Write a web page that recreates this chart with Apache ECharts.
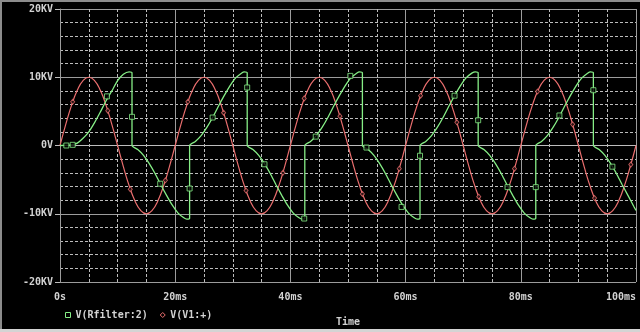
<!DOCTYPE html>
<html>
<head>
<meta charset="utf-8">
<script src="https://cdn.jsdelivr.net/npm/echarts@6/dist/echarts.min.js"></script>
<style>
html,body{margin:0;padding:0;background:#000;}
#c{width:640px;height:332px;}
</style>
</head>
<body>
<div id="c"></div>
<script>
// ---- data (time in ms, voltage in kV) ----
const xTickValues = [0, 20, 40, 60, 80, 100];
const xTickLabels = ['0s', '20ms', '40ms', '60ms', '80ms', '100ms'];
const yTickValues = [-20, -10, 0, 10, 20];
const yTickLabels = ['-20KV', '-10KV', '0V', '10KV', '20KV'];

// V(V1:+) sampled every 1 ms from 0 to 100 ms
const redTime = [];
for (let i = 0; i <= 100; i++) redTime.push(i);
const redValues = [
  0, 3.09, 5.88, 8.09, 9.51, 10, 9.51, 8.09, 5.88, 3.09,
  0, -3.09, -5.88, -8.09, -9.51, -10, -9.51, -8.09, -5.88, -3.09,
  0, 3.09, 5.88, 8.09, 9.51, 10, 9.51, 8.09, 5.88, 3.09,
  0, -3.09, -5.88, -8.09, -9.51, -10, -9.51, -8.09, -5.88, -3.09,
  0, 3.09, 5.88, 8.09, 9.51, 10, 9.51, 8.09, 5.88, 3.09,
  0, -3.09, -5.88, -8.09, -9.51, -10, -9.51, -8.09, -5.88, -3.09,
  0, 3.09, 5.88, 8.09, 9.51, 10, 9.51, 8.09, 5.88, 3.09,
  0, -3.09, -5.88, -8.09, -9.51, -10, -9.51, -8.09, -5.88, -3.09,
  0, 3.09, 5.88, 8.09, 9.51, 10, 9.51, 8.09, 5.88, 3.09,
  0, -3.09, -5.88, -8.09, -9.51, -10, -9.51, -8.09, -5.88, -3.09,
  0
];

// V(Rfilter:2) as [time, value] points (vertical jumps = repeated time)
const greenPoints = [
  [0,0],[1,0.02],[2,0.1],[3,0.35],[4,1.05],[5,2.0],[6,3.35],[7,4.9],[8,6.55],[9,8.0],[10,9.5],[11,10.45],[12,10.8],[12.5,10.65],[12.5,0],
  [13.5,-0.6],[14.5,-1.45],[15.5,-2.65],[16.5,-4.1],[17.5,-5.75],[18.5,-7.3],[19.5,-8.75],[20.5,-9.9],[21.5,-10.6],[22,-10.8],[22.5,-10.65],[22.5,0],
  [23.5,0.6],[24.5,1.45],[25.5,2.65],[26.5,4.1],[27.5,5.75],[28.5,7.3],[29.5,8.75],[30.5,9.9],[31.5,10.6],[32,10.8],[32.5,10.65],[32.5,0],
  [33.5,-0.6],[34.5,-1.45],[35.5,-2.65],[36.5,-4.1],[37.5,-5.75],[38.5,-7.3],[39.5,-8.75],[40.5,-9.9],[41.5,-10.6],[42,-10.8],[42.5,-10.65],[42.5,0],
  [43.5,0.6],[44.5,1.45],[45.5,2.65],[46.5,4.1],[47.5,5.75],[48.5,7.3],[49.5,8.75],[50.5,9.9],[51.5,10.6],[52,10.8],[52.5,10.65],[52.5,0],
  [53.5,-0.6],[54.5,-1.45],[55.5,-2.65],[56.5,-4.1],[57.5,-5.75],[58.5,-7.3],[59.5,-8.75],[60.5,-9.9],[61.5,-10.6],[62,-10.8],[62.5,-10.65],[62.5,0],
  [63.5,0.6],[64.5,1.45],[65.5,2.65],[66.5,4.1],[67.5,5.75],[68.5,7.3],[69.5,8.75],[70.5,9.9],[71.5,10.6],[72.1,10.8],[72.6,10.65],[72.6,0],
  [73.6,-0.6],[74.6,-1.45],[75.6,-2.65],[76.6,-4.1],[77.6,-5.75],[78.6,-7.3],[79.6,-8.75],[80.6,-9.9],[81.6,-10.6],[82.1,-10.8],[82.6,-10.65],[82.6,0],
  [83.6,0.6],[84.6,1.45],[85.6,2.65],[86.6,4.1],[87.6,5.75],[88.6,7.3],[89.6,8.75],[90.6,9.9],[91.6,10.6],[92.1,10.8],[92.6,10.65],[92.6,0],
  [93.6,-0.6],[94.6,-1.45],[95.6,-2.65],[96.6,-4.1],[97.6,-5.75],[98.6,-7.3],[99.6,-8.9],[100,-9.5]
];

// trace markers
const greenMarkTime = [1.1, 2.2, 8.15, 12.5, 17.4, 22.5, 26.5, 32.5, 35.5, 42.4, 44.4, 50.4, 53.2, 59.3, 62.5, 68.5, 72.6, 77.7, 82.6, 86.7, 92.6, 95.9];
const greenMarkValue = [0.0, 0.1, 7.2, 4.2, -5.6, -6.3, 4.1, 8.5, -2.75, -10.7, 1.3, 10.2, -0.3, -9.0, -1.5, 7.3, 3.7, -6.1, -6.1, 4.4, 8.1, -3.1];
const redMarkTime = [2.2, 8.3, 12.2, 18.3, 22.2, 28.4, 32.3, 38.7, 42.4, 48.6, 52.5, 58.9, 62.6, 68.9, 72.7, 78.9, 82.9, 89.0, 92.8, 99.1];
const redMarkValue = [6.4, 5.1, -6.4, -5.1, 6.4, 4.8, -6.6, -4.0, 6.9, 4.3, -7.1, -3.4, 7.3, 3.4, -7.5, -3.4, 7.9, 3.1, -7.7, -2.8];

// ---- styles ----
const GREEN = '#86ee86';
const RED = '#ea6e6e';
const TXT = '#d2d2d2';
const FONT = 'DejaVu Sans Mono';

const chart = echarts.init(document.getElementById('c'), null, {renderer: 'canvas'});

chart.setOption({
  backgroundColor: '#000',
  animation: false,
  textStyle: {fontFamily: FONT},
  grid: {left: 60, right: 4, top: 9, bottom: 43, containLabel: false},
  legend: {
    left: 60, top: 305,
    itemWidth: 5, itemHeight: 5, itemGap: 12,
    textStyle: {color: TXT, fontFamily: FONT, fontSize: 10, fontWeight: 'bold'},
    data: [
      {name: 'V(Rfilter:2)', icon: 'rect', itemStyle: {color: '#000', borderColor: GREEN, borderWidth: 1}},
      {name: 'V(V1:+)', icon: 'diamond', itemStyle: {color: '#000', borderColor: RED, borderWidth: 1}}
    ]
  },
  xAxis: {
    type: 'value', min: 0, max: 100, interval: 20,
    name: 'Time', nameLocation: 'middle', nameGap: 35,
    nameTextStyle: {color: TXT, fontFamily: FONT, fontSize: 10, fontWeight: 'bold'},
    axisLine: {show: true, lineStyle: {color: '#bdbdbd', width: 1}},
    axisTick: {show: false},
    axisLabel: {
      color: TXT, fontFamily: FONT, fontSize: 10, fontWeight: 'bold', margin: 10,
      alignMaxLabel: 'right',
      formatter: v => { const i = xTickValues.indexOf(v); return i >= 0 ? xTickLabels[i] : ''; }
    },
    splitLine: {show: true, lineStyle: {color: '#9c9c9c', width: 1}},
    minorTick: {show: false, splitNumber: 4},
    minorSplitLine: {show: true, lineStyle: {color: '#bcbcbc', width: 1, type: [3, 2]}}
  },
  yAxis: {
    type: 'value', min: -20, max: 20, interval: 10,
    axisLine: {show: true, lineStyle: {color: '#9c9c9c', width: 1}},
    axisTick: {show: true, inside: false, length: 5, lineStyle: {color: '#bdbdbd'}},
    axisLabel: {
      color: TXT, fontFamily: FONT, fontSize: 10, fontWeight: 'bold', margin: 7,
      formatter: v => { const i = yTickValues.indexOf(v); return i >= 0 ? yTickLabels[i] : ''; }
    },
    splitLine: {show: true, lineStyle: {color: '#9c9c9c', width: 1}},
    minorTick: {show: false, splitNumber: 5},
    minorSplitLine: {show: true, lineStyle: {color: '#bcbcbc', width: 1, type: [3, 2]}}
  },
  series: [
    {
      name: 'V(V1:+)', type: 'line', showSymbol: false, smooth: 0.5,
      data: redTime.map((t, i) => [t, redValues[i]]),
      lineStyle: {color: RED, width: 1.2}, itemStyle: {color: RED}, z: 3
    },
    {
      name: 'V(Rfilter:2)', type: 'line', showSymbol: false, smooth: 0.2,
      data: greenPoints,
      lineStyle: {color: GREEN, width: 1.3}, itemStyle: {color: GREEN}, z: 4
    },
    {
      name: 'redMarks', type: 'scatter', symbol: 'diamond', symbolSize: [4, 5],
      data: redMarkTime.map((t, i) => [t, redMarkValue[i]]),
      itemStyle: {color: '#000', borderColor: RED, borderWidth: 1}, z: 5
    },
    {
      name: 'greenMarks', type: 'scatter', symbol: 'rect', symbolSize: 5,
      data: greenMarkTime.map((t, i) => [t, greenMarkValue[i]]),
      itemStyle: {color: '#000', borderColor: GREEN, borderWidth: 1}, z: 6
    }
  ],
  graphic: [
    {type: 'rect', shape: {x: 0, y: 0, width: 640, height: 2}, style: {fill: '#8c8c8c'}, silent: true},
    {type: 'rect', shape: {x: 0, y: 0, width: 2, height: 332}, style: {fill: '#8c8c8c'}, silent: true},
    {type: 'rect', shape: {x: 0, y: 329, width: 640, height: 3}, style: {fill: '#d4d4d4'}, silent: true}
  ]
});
</script>
</body>
</html>
